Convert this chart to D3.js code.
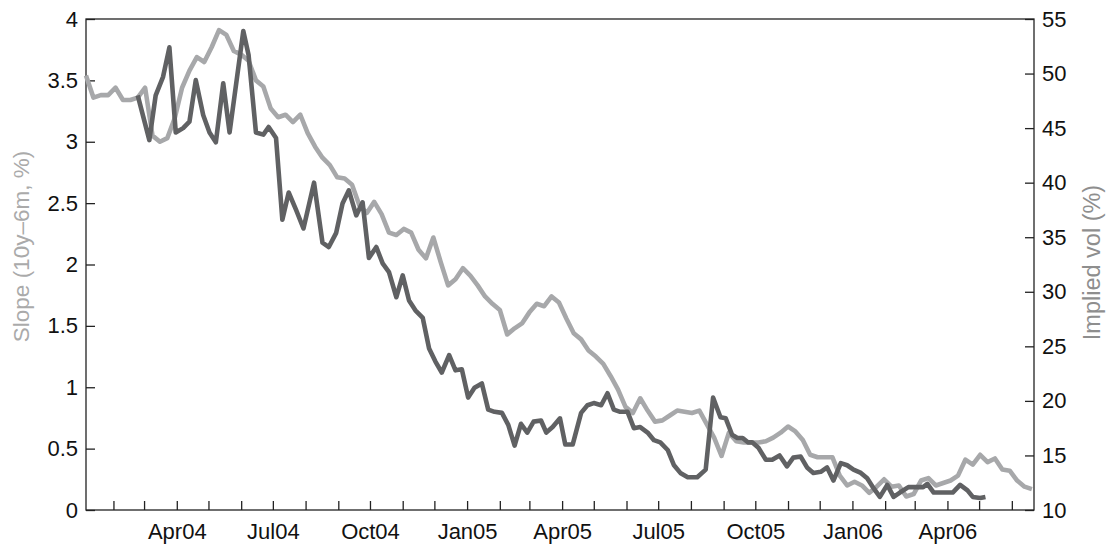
<!DOCTYPE html>
<html>
<head>
<meta charset="utf-8">
<script src="https://cdn.jsdelivr.net/npm/d3@7"></script>
<style>
  body { margin: 0; background: #fff; }
  text { font-family: "Liberation Sans", Arial, Helvetica, sans-serif; }
</style>
</head>
<body>
<svg id="chart" width="1111" height="545"></svg>
<script>
// Weekly curve slope, 10y minus 6m (%), left axis
const slopeDates = [
  "2004-01-06","2004-01-13","2004-01-20","2004-01-27","2004-02-03","2004-02-10","2004-02-17","2004-02-24",
  "2004-03-02","2004-03-09","2004-03-16","2004-03-23","2004-03-30","2004-04-06","2004-04-13","2004-04-20",
  "2004-04-27","2004-05-04","2004-05-11","2004-05-18","2004-05-25","2004-06-01","2004-06-08","2004-06-15",
  "2004-06-22","2004-06-29","2004-07-06","2004-07-13","2004-07-20","2004-07-27","2004-08-03","2004-08-10",
  "2004-08-17","2004-08-24","2004-08-31","2004-09-07","2004-09-14","2004-09-21","2004-09-28","2004-10-05",
  "2004-10-12","2004-10-19","2004-10-26","2004-11-02","2004-11-09","2004-11-16","2004-11-23","2004-11-30",
  "2004-12-07","2004-12-14","2004-12-21","2004-12-28","2005-01-04","2005-01-11","2005-01-18","2005-01-25",
  "2005-02-01","2005-02-08","2005-02-15","2005-02-22","2005-03-01","2005-03-08","2005-03-15","2005-03-22",
  "2005-03-29","2005-04-05","2005-04-12","2005-04-19","2005-04-26","2005-05-03","2005-05-10","2005-05-17",
  "2005-05-24","2005-05-31","2005-06-07","2005-06-14","2005-06-21","2005-06-28","2005-07-05","2005-07-12",
  "2005-07-19","2005-07-26","2005-08-02","2005-08-09","2005-08-16","2005-08-23","2005-08-30","2005-09-06",
  "2005-09-13","2005-09-20","2005-09-27","2005-10-04","2005-10-11","2005-10-18","2005-10-25","2005-11-01",
  "2005-11-08","2005-11-15","2005-11-22","2005-11-29","2005-12-06","2005-12-13","2005-12-20","2005-12-27",
  "2006-01-03","2006-01-10","2006-01-17","2006-01-24","2006-01-31","2006-02-07","2006-02-14","2006-02-21",
  "2006-02-28","2006-03-07","2006-03-14","2006-03-21","2006-03-28","2006-04-04","2006-04-11","2006-04-18",
  "2006-04-25","2006-05-02","2006-05-09","2006-05-16","2006-05-23","2006-05-30","2006-06-06","2006-06-13",
  "2006-06-20"
];
const slopeValues = [
  3.54,3.36,3.38,3.38,3.44,3.34,3.34,3.36,
  3.44,3.05,3.00,3.03,3.19,3.44,3.58,3.69,
  3.65,3.77,3.91,3.87,3.74,3.71,3.66,3.50,
  3.45,3.27,3.20,3.22,3.16,3.22,3.07,2.96,
  2.87,2.81,2.71,2.70,2.65,2.48,2.42,2.51,
  2.41,2.26,2.24,2.29,2.26,2.12,2.05,2.22,
  2.02,1.83,1.88,1.97,1.91,1.83,1.74,1.68,
  1.63,1.43,1.48,1.52,1.61,1.68,1.66,1.74,
  1.69,1.56,1.44,1.39,1.30,1.25,1.19,1.09,
  0.98,0.84,0.79,0.91,0.81,0.72,0.73,0.77,
  0.81,0.80,0.79,0.81,0.70,0.59,0.44,0.63,
  0.56,0.55,0.55,0.55,0.56,0.59,0.63,0.68,
  0.64,0.57,0.45,0.43,0.43,0.43,0.28,0.20,
  0.23,0.20,0.14,0.19,0.25,0.19,0.20,0.11,
  0.13,0.24,0.26,0.20,0.22,0.24,0.28,0.41,
  0.37,0.45,0.39,0.42,0.33,0.32,0.24,0.19,
  0.17
];

// Implied volatility (%), right axis
const volDates = [
  "2004-02-24","2004-03-06","2004-03-12","2004-03-19","2004-03-25","2004-03-31","2004-04-07","2004-04-13",
  "2004-04-19","2004-04-26","2004-05-02","2004-05-08","2004-05-15","2004-05-21","2004-06-03","2004-06-08",
  "2004-06-15","2004-06-22","2004-06-27","2004-07-04","2004-07-10","2004-07-16","2004-07-23","2004-07-30",
  "2004-08-09","2004-08-17","2004-08-23","2004-08-30","2004-09-05","2004-09-11","2004-09-18","2004-09-24",
  "2004-09-30","2004-10-07","2004-10-13","2004-10-19","2004-10-26","2004-11-01","2004-11-07","2004-11-13",
  "2004-11-20","2004-11-26","2004-12-02","2004-12-08","2004-12-15","2004-12-21","2004-12-27","2005-01-02",
  "2005-01-08","2005-01-15","2005-01-21","2005-01-27","2005-02-03","2005-02-09","2005-02-15","2005-02-21",
  "2005-02-27","2005-03-05","2005-03-12","2005-03-17","2005-03-23","2005-03-30","2005-04-04","2005-04-11",
  "2005-04-19","2005-04-25","2005-05-01","2005-05-08","2005-05-14","2005-05-20","2005-05-26","2005-06-02",
  "2005-06-08","2005-06-14","2005-06-21","2005-06-27","2005-07-03","2005-07-10","2005-07-16","2005-07-22",
  "2005-07-29","2005-08-07","2005-08-15","2005-08-22","2005-08-29","2005-09-03","2005-09-09","2005-09-14",
  "2005-09-19","2005-09-24","2005-09-28","2005-10-04","2005-10-11","2005-10-17","2005-10-24","2005-10-31",
  "2005-11-06","2005-11-13","2005-11-19","2005-11-25","2005-12-02","2005-12-08","2005-12-14","2005-12-21",
  "2005-12-27","2006-01-02","2006-01-09","2006-01-15","2006-01-21","2006-01-27","2006-02-03","2006-02-09",
  "2006-02-15","2006-02-23","2006-03-03","2006-03-09","2006-03-13","2006-03-19","2006-03-25","2006-04-02",
  "2006-04-06","2006-04-13","2006-04-20","2006-04-25","2006-05-02","2006-05-07"
];
const volValues = [
  48.0,43.9,48.0,49.7,52.4,44.6,45.0,45.6,
  49.4,46.2,44.6,43.7,49.1,44.6,53.9,51.7,
  44.6,44.4,45.1,44.1,36.6,39.1,37.5,35.8,
  40.0,34.5,34.1,35.4,38.1,39.3,37.0,38.2,
  33.1,34.1,32.6,31.8,29.5,31.5,29.2,28.3,
  27.6,24.8,23.6,22.6,24.2,22.8,22.9,20.3,
  21.2,21.6,19.2,19.0,18.9,17.8,15.9,17.9,
  17.1,18.1,18.2,17.1,17.6,18.4,16.0,16.0,
  18.9,19.6,19.8,19.6,20.7,19.2,19.0,19.0,
  17.5,17.6,17.1,16.4,16.2,15.5,14.1,13.4,
  13.0,13.0,13.7,20.3,18.5,18.4,16.9,16.6,
  16.6,16.2,16.2,15.7,14.6,14.6,15.0,14.0,
  14.8,14.9,13.9,13.4,13.5,13.9,12.7,14.3,
  14.1,13.7,13.4,12.9,12.0,11.2,12.3,11.2,
  11.6,12.1,12.1,12.1,12.4,11.6,11.6,11.6,
  11.6,12.3,11.8,11.2,11.1,11.2
];

const slopeTicks = [0, 0.5, 1, 1.5, 2, 2.5, 3, 3.5, 4];
const volTicks = [10, 15, 20, 25, 30, 35, 40, 45, 50, 55];
const xLabels = ["Apr04", "Jul04", "Oct04", "Jan05", "Apr05", "Jul05", "Oct05", "Jan06", "Apr06"];

(function draw() {
  const parse = d3.timeParse("%Y-%m-%d");
  const slopeData = slopeDates.map((d, i) => ({ date: parse(d), value: slopeValues[i] }));
  const volData = volDates.map((d, i) => ({ date: parse(d), value: volValues[i] }));

  const svg = d3.select("#chart");
  const plotLeft = 86, plotRight = 1034, plotTop = 19, plotBottom = 510;

  const x = d3.scaleTime()
    .domain([parse("2004-01-06"), parse("2006-06-22")])
    .range([plotLeft, plotRight]);
  const yLeft = d3.scaleLinear().domain([0, 4]).range([plotBottom, plotTop]);
  const yRight = d3.scaleLinear().domain([10, 55]).range([plotBottom, plotTop]);

  const axisColor = "#222";
  const fontSize = 22;

  // month ticks, labelled every quarter
  const monthTicks = d3.timeMonth.range(parse("2004-02-01"), parse("2006-06-02"));
  const fmt = d3.timeFormat("%b%y");

  const xAxis = d3.axisBottom(x)
    .tickValues(monthTicks)
    .tickSizeInner(-9).tickSizeOuter(0).tickPadding(13)
    .tickFormat(d => xLabels.includes(fmt(d)) ? fmt(d) : "");

  const leftAxis = d3.axisLeft(yLeft)
    .tickValues(slopeTicks)
    .tickSizeInner(-9).tickSizeOuter(0).tickPadding(8)
    .tickFormat(d => String(d));

  const rightAxis = d3.axisRight(yRight)
    .tickValues(volTicks)
    .tickSizeInner(-9).tickSizeOuter(0).tickPadding(8)
    .tickFormat(d => String(d));

  function styleAxis(g) {
    g.select(".domain").remove();
    g.selectAll(".tick line").attr("stroke", axisColor).attr("stroke-width", 1.3);
    g.selectAll(".tick text").attr("fill", "#111").attr("font-size", fontSize)
      .attr("font-family", "Liberation Sans, Arial, Helvetica, sans-serif");
  }

  svg.append("g").attr("transform", `translate(0,${plotBottom})`).call(xAxis).call(styleAxis);
  svg.append("g").attr("transform", `translate(${plotLeft},0)`).call(leftAxis).call(styleAxis);
  svg.append("g").attr("transform", `translate(${plotRight},0)`).call(rightAxis).call(styleAxis);

  // plot frame
  svg.append("rect")
    .attr("x", plotLeft).attr("y", plotTop)
    .attr("width", plotRight - plotLeft).attr("height", plotBottom - plotTop)
    .attr("fill", "none").attr("stroke", axisColor).attr("stroke-width", 1.3);

  // series lines
  const slopeLine = d3.line().x(d => x(d.date)).y(d => yLeft(d.value));
  const volLine = d3.line().x(d => x(d.date)).y(d => yRight(d.value));

  svg.append("path").datum(slopeData)
    .attr("d", slopeLine)
    .attr("fill", "none").attr("stroke", "#a7a8aa")
    .attr("stroke-width", 4.6).attr("stroke-linejoin", "round");

  svg.append("path").datum(volData)
    .attr("d", volLine)
    .attr("fill", "none").attr("stroke", "#606163")
    .attr("stroke-width", 4.6).attr("stroke-linejoin", "round");

  // axis titles
  svg.append("text")
    .attr("transform", `translate(21,${(plotTop + plotBottom) / 2 - 18}) rotate(-90)`)
    .attr("text-anchor", "middle").attr("dominant-baseline", "central")
    .attr("font-size", 22.5).attr("fill", "#aaaaaa")
    .text("Slope (10y–6m, %)");

  svg.append("text")
    .attr("transform", `translate(1092,${(plotTop + plotBottom) / 2 - 2}) rotate(-90)`)
    .attr("text-anchor", "middle").attr("dominant-baseline", "central")
    .attr("font-size", 23.5).attr("fill", "#8e8e8e")
    .text("Implied vol (%)");
})();
</script>
</body>
</html>
